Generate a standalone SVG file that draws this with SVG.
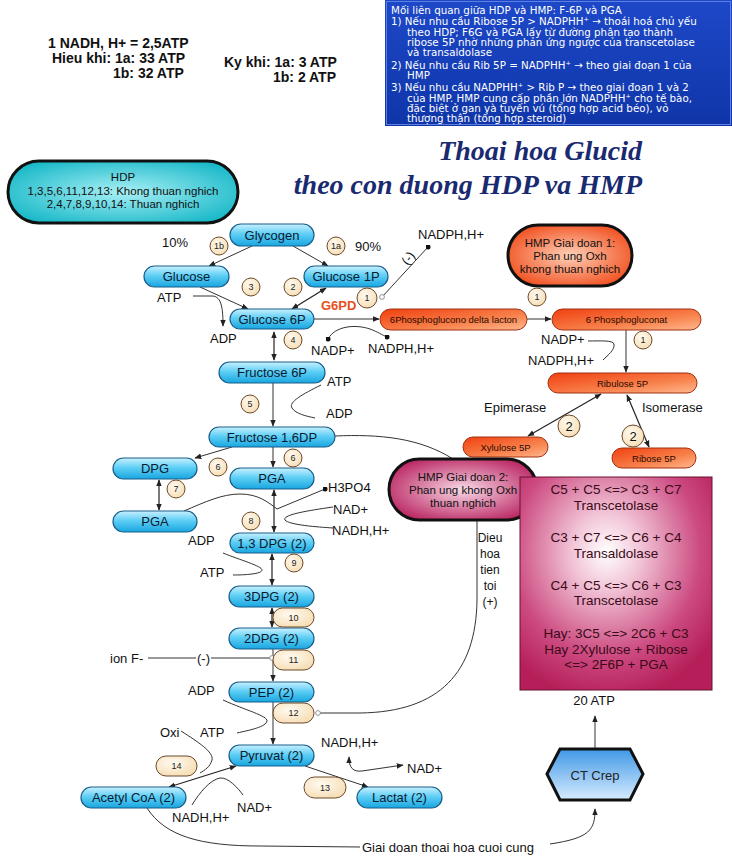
<svg xmlns="http://www.w3.org/2000/svg" width="732" height="858" viewBox="0 0 732 858">
<defs>
<linearGradient id="gBlue" x1="0" y1="0" x2="0" y2="1">
<stop offset="0" stop-color="#c8f0ff"/><stop offset="0.45" stop-color="#5fcff5"/><stop offset="1" stop-color="#18a6e0"/>
</linearGradient>
<linearGradient id="gOr" x1="0" y1="0" x2="1" y2="1">
<stop offset="0" stop-color="#f04010"/><stop offset="0.6" stop-color="#f8804a"/><stop offset="1" stop-color="#ffb890"/>
</linearGradient>
<radialGradient id="gOrPill" cx="0.5" cy="0.5" r="0.6">
<stop offset="0" stop-color="#ffd0b8"/><stop offset="1" stop-color="#f04a18"/>
</radialGradient>
<radialGradient id="gCyan" cx="0.5" cy="0.5" r="0.6">
<stop offset="0" stop-color="#a8f0f5"/><stop offset="1" stop-color="#18b8c8"/>
</radialGradient>
<radialGradient id="gPink" cx="0.5" cy="0.5" r="0.6">
<stop offset="0" stop-color="#f8d8e6"/><stop offset="1" stop-color="#b8205e"/>
</radialGradient>
<radialGradient id="gSq" cx="0.45" cy="0.35" r="0.7">
<stop offset="0" stop-color="#ffffff"/><stop offset="0.25" stop-color="#f2c6d8"/><stop offset="0.7" stop-color="#cc4a80"/><stop offset="1" stop-color="#b51e58"/>
</radialGradient>
<linearGradient id="gHex" x1="0" y1="0" x2="0" y2="1">
<stop offset="0" stop-color="#3f98e6"/><stop offset="1" stop-color="#d8ecff"/>
</linearGradient>
<linearGradient id="gNavy" x1="0" y1="0" x2="0" y2="1">
<stop offset="0" stop-color="#1d48c8"/><stop offset="1" stop-color="#0f35a8"/>
</linearGradient>
<radialGradient id="gCream" cx="0.4" cy="0.35" r="0.7">
<stop offset="0" stop-color="#fffaf0"/><stop offset="1" stop-color="#f6ddb4"/>
</radialGradient>
<marker id="ah" viewBox="0 0 10 10" refX="9" refY="5" markerWidth="7" markerHeight="7" markerUnits="userSpaceOnUse" orient="auto-start-reverse">
<path d="M0,1 L10,5 L0,9 z" fill="#222"/>
</marker>
<marker id="dot" viewBox="0 0 10 10" refX="5" refY="5" markerWidth="5" markerHeight="5" markerUnits="userSpaceOnUse">
<circle cx="5" cy="5" r="5" fill="#111"/>
</marker>
<marker id="oc" viewBox="0 0 10 10" refX="5" refY="5" markerWidth="6" markerHeight="6" markerUnits="userSpaceOnUse">
<circle cx="5" cy="5" r="4" fill="#fff" stroke="#888" stroke-width="1.5"/>
</marker>
</defs>
<style>
text{font-family:"Liberation Sans",Arial,sans-serif;fill:#111}
.lbl{font-size:13px}
.nb{fill:url(#gBlue);stroke:#1a5f8a;stroke-width:1.2}
.nt{font-size:13px;text-anchor:middle;fill:#0a1a30}
.no{fill:url(#gOr);stroke:#a03010;stroke-width:1}
.ot{font-size:9.5px;text-anchor:middle;fill:#2a0a00}
.ci{fill:url(#gCream);stroke:#6b4a2a;stroke-width:1}
.ct{font-size:9px;text-anchor:middle;fill:#222}
.ct2{font-size:13px;text-anchor:middle;fill:#222}
.ln{fill:none;stroke:#333;stroke-width:1}
.ar{fill:none;stroke:#333;stroke-width:1;marker-end:url(#ah)}
.da{fill:none;stroke:#222;stroke-width:1.2;marker-start:url(#ah);marker-end:url(#ah)}
.bx{font-family:"DejaVu Sans","Liberation Sans",sans-serif;font-size:10.3px;fill:#fff}
.hd{font-size:14px;font-weight:bold}
.ttl{font-family:"Liberation Serif","Times New Roman",serif;font-size:28px;font-weight:bold;font-style:italic;fill:#1a2a70}
.sq{font-size:13.5px;text-anchor:middle;fill:#3a0a18}
</style>

<rect width="732" height="858" fill="#fff"/>

<g id="infobox">
<rect x="385" y="0" width="347" height="126" fill="url(#gNavy)"/>
<rect x="386.5" y="1.5" width="344" height="123" fill="none" stroke="#5f80e0" stroke-width="1"/>
<text class="bx" x="391" y="14">Mối liên quan giữa HDP và HMP:  F-6P và PGA</text>
<text class="bx" x="391" y="25">1) Nếu nhu cầu Ribose 5P &gt; NADPHH⁺ → thoái hoá chủ yếu</text>
<text class="bx" x="407" y="36">theo HDP; F6G và PGA lấy từ đường phân tạo thành</text>
<text class="bx" x="407" y="46">ribose 5P nhờ những phản ứng ngược của transcetolase</text>
<text class="bx" x="407" y="56">và transaldolase</text>
<text class="bx" x="391" y="69">2) Nếu nhu cầu Rib 5P = NADPHH⁺ → theo giai đoạn 1 của</text>
<text class="bx" x="407" y="79">HMP</text>
<text class="bx" x="391" y="91">3) Nếu nhu cầu NADPHH⁺ &gt; Rib P → theo giai đoạn 1 và 2</text>
<text class="bx" x="407" y="102">của HMP. HMP cung cấp phần lớn NADPHH⁺ cho tế bào,</text>
<text class="bx" x="407" y="112">đặc biệt ở gan và tuyến vú (tổng hợp acid béo), vỏ</text>
<text class="bx" x="407" y="122">thượng thận (tổng hợp steroid)</text>
</g>

<g id="atp-notes">
<text class="hd" x="48" y="48">1 NADH, H+ = 2,5ATP</text>
<text class="hd" x="52" y="63">Hieu khi: 1a: 33 ATP</text>
<text class="hd" x="113" y="78">1b: 32 ATP</text>
<text class="hd" x="224" y="67">Ky khi: 1a: 3 ATP</text>
<text class="hd" x="273" y="82">1b: 2 ATP</text>
</g>

<g id="title">
<text class="ttl" x="642" y="160" text-anchor="end">Thoai hoa Glucid</text>
<text class="ttl" x="642" y="194" text-anchor="end">theo con duong HDP va HMP</text>
</g>

<g id="hdp-legend">
<rect x="8" y="161" width="230" height="62" rx="31" fill="url(#gCyan)" stroke="#111" stroke-width="3"/>
<text x="123" y="181" font-size="11.5" text-anchor="middle">HDP</text>
<text x="123" y="195" font-size="11.5" text-anchor="middle">1,3,5,6,11,12,13: Khong thuan nghich</text>
<text x="123" y="208" font-size="11.5" text-anchor="middle">2,4,7,8,9,10,14: Thuan nghich</text>
</g>

<g id="connectors">
<path class="ar" d="M252,246 L209,266"/>
<path class="ar" d="M293,246 L328,266"/>
<path class="ar" d="M200,287 L248,309"/>
<path class="da" d="M326,288 L292,309"/>
<path class="ar" d="M193,296 L212,296 C222,296 223,310 223,326"/>
<path class="ar" d="M314,319 L379,319"/>
<path class="ar" d="M527,319 L551,319"/>
<path class="ln" d="M382,297 L428,247" marker-end="url(#dot)" marker-start="url(#oc)"/>
<path class="ln" d="M328,339 C335,326 355,324 370,329 C378,332 382,335 387,337" marker-start="url(#dot)" marker-end="url(#dot)"/>
<path class="da" d="M274,332 L274,360"/>
<path class="ln" d="M321,385 C303,394 288,402 292,408 C296,414 306,416 315,418"/>
<path class="ar" d="M273,383 L273,426"/>
<path class="ar" d="M232,447 L195,458"/>
<path class="ar" d="M273,447 L273,467"/>
<path class="ln" d="M335,436 C380,434 420,438 453,459"/>
<path class="da" d="M159,480 L159,510"/>
<path class="da" d="M274,490 L274,532"/>
<path class="ln" d="M184,511 C205,502 222,494 240,494 C258,494 268,502 277,509"/>
<path class="ln" d="M277,509 L325,489" marker-end="url(#dot)"/>
<path class="ln" d="M333,507 C305,511 282,515 285,520 C289,525 318,527 333,528"/>
<path class="ln" d="M223,553 C240,560 262,566 262,570 C262,574 245,575 233,575"/>
<path class="da" d="M272,554 L272,585"/>
<path class="da" d="M272,608 L272,627"/>
<path class="ar" d="M273,649 L273,681"/>
<path class="ln" d="M148,658 L196,658"/>
<path class="ln" d="M211,658 L272,658" marker-end="url(#oc)"/>
<path class="ar" d="M273,702 L273,744"/>
<path class="ln" d="M223,700 C245,710 268,716 267,721 C266,727 250,730 237,733"/>
<path class="ln" d="M181,731 C198,742 214,752 212,760 C210,767 205,770 200,773"/>
<path class="ln" d="M477,520 L477,600 C476,672 440,712 360,713 L318,713" marker-end="url(#oc)"/>
<path class="da" d="M236,766 L169,787"/>
<path class="ln" d="M192,805 C200,792 210,780 220,778 C228,777 238,788 243,795"/>
<path class="ar" d="M305,766 L368,787"/>
<path class="ln" d="M349,757 C349,768 353,772 362,771 L403,765" marker-start="url(#ah)" marker-end="url(#ah)"/>
<path class="ln" d="M147,808 C165,836 200,846 260,846 L360,847"/>
<path class="ar" d="M550,844 C590,838 595,830 595,809"/>
<path class="ar" d="M595,749 L595,716"/>
<path class="ar" d="M626,330 L626,372"/>
<path class="ln" d="M588,341 C600,341 613,340 614,344 C615,350 608,355 603,360"/>
<path class="da" d="M601,394 L528,436"/>
<path class="da" d="M627,395 L649,447"/>
</g>

<g id="glycogen"><rect class="nb" x="230" y="224" width="84" height="22" rx="11"/><text class="nt" x="272" y="240">Glycogen</text></g>
<g id="glucose"><rect class="nb" x="144" y="266" width="85" height="21" rx="10.5"/><text class="nt" x="186.5" y="281">Glucose</text></g>
<g id="glucose1p"><rect class="nb" x="304" y="266" width="84" height="21" rx="10.5"/><text class="nt" x="346" y="281">Glucose 1P</text></g>
<g id="glucose6p"><rect class="nb" x="230" y="309" width="84" height="20" rx="10"/><text class="nt" x="272" y="324">Glucose 6P</text></g>
<g id="fructose6p"><rect class="nb" x="219" y="362" width="106" height="21" rx="10.5"/><text class="nt" x="272" y="377">Fructose 6P</text></g>
<g id="fructose16dp"><rect class="nb" x="209" y="427" width="126" height="20" rx="10"/><text class="nt" x="272" y="442">Fructose 1,6DP</text></g>
<g id="dpg"><rect class="nb" x="113" y="458" width="84" height="21" rx="10.5"/><text class="nt" x="155" y="473">DPG</text></g>
<g id="pga"><rect class="nb" x="230" y="468" width="84" height="21" rx="10.5"/><text class="nt" x="272" y="483">PGA</text></g>
<g id="pga-left"><rect class="nb" x="113" y="511" width="84" height="21" rx="10.5"/><text class="nt" x="155" y="526">PGA</text></g>
<g id="dpg13"><rect class="nb" x="230" y="533" width="84" height="20" rx="10"/><text class="nt" x="272" y="548">1,3 DPG (2)</text></g>
<g id="dpg3"><rect class="nb" x="229" y="586" width="85" height="21" rx="10.5"/><text class="nt" x="271.5" y="601">3DPG (2)</text></g>
<g id="dpg2"><rect class="nb" x="229" y="628" width="85" height="21" rx="10.5"/><text class="nt" x="271.5" y="643">2DPG (2)</text></g>
<g id="pep"><rect class="nb" x="229" y="682" width="85" height="20" rx="10"/><text class="nt" x="271.5" y="697">PEP (2)</text></g>
<g id="pyruvat"><rect class="nb" x="229" y="745" width="85" height="21" rx="10.5"/><text class="nt" x="271.5" y="760">Pyruvat  (2)</text></g>
<g id="acetylcoa"><rect class="nb" x="81" y="787" width="105" height="21" rx="10.5"/><text class="nt" x="133.5" y="802">Acetyl CoA (2)</text></g>
<g id="lactat"><rect class="nb" x="357" y="787" width="85" height="21" rx="10.5"/><text class="nt" x="399.5" y="802">Lactat (2)</text></g>

<g id="hmp1">
<rect x="508" y="225" width="124" height="61" rx="30.5" fill="url(#gOrPill)" stroke="#111" stroke-width="3"/>
<text x="570" y="247" font-size="11.5" text-anchor="middle">HMP Giai doan 1:</text>
<text x="570" y="260" font-size="11.5" text-anchor="middle">Phan ung Oxh</text>
<text x="570" y="273" font-size="11.5" text-anchor="middle">khong thuan nghich</text>
</g>
<g id="pgl"><rect class="no" x="380" y="309" width="147" height="21" rx="10.5"/><text class="ot" x="453.5" y="323">6Phosphoglucono delta lacton</text></g>
<g id="pgn"><rect class="no" x="552" y="309" width="149" height="21" rx="10.5"/><text class="ot" x="626.5" y="323">6 Phosphogluconat</text></g>
<g id="ribulose"><rect class="no" x="548" y="373" width="149" height="20" rx="10"/><text class="ot" x="622.5" y="387">Ribulose 5P</text></g>
<g id="xylulose"><rect class="no" x="463" y="437" width="85" height="20" rx="10"/><text class="ot" x="505.5" y="451">Xylulose 5P</text></g>
<g id="ribose"><rect class="no" x="612" y="448" width="84" height="20" rx="10"/><text class="ot" x="654" y="462">Ribose 5P</text></g>

<g id="hmp2">
<rect x="389" y="459" width="148" height="61" rx="30.5" fill="url(#gPink)" stroke="#111" stroke-width="3"/>
<text x="463" y="481" font-size="11.5" text-anchor="middle">HMP Giai doan 2:</text>
<text x="463" y="494" font-size="11.5" text-anchor="middle">Phan ung khong Oxh</text>
<text x="463" y="507" font-size="11.5" text-anchor="middle">thuan nghich</text>
</g>

<g id="reactions">
<rect x="520" y="477" width="192" height="213" fill="url(#gSq)" stroke="#6a1030" stroke-width="1"/>
<text class="sq" x="616" y="494">C5 + C5 &lt;=&gt; C3 + C7</text>
<text class="sq" x="616" y="510">Transcetolase</text>
<text class="sq" x="616" y="542">C3 + C7 &lt;=&gt; C6 + C4</text>
<text class="sq" x="616" y="558">Transaldolase</text>
<text class="sq" x="616" y="590">C4 + C5 &lt;=&gt; C6 + C3</text>
<text class="sq" x="616" y="605">Transcetolase</text>
<text class="sq" x="616" y="638">Hay: 3C5 &lt;=&gt; 2C6 + C3</text>
<text class="sq" x="616" y="654">Hay 2Xylulose + Ribose</text>
<text class="sq" x="616" y="669">&lt;=&gt; 2F6P + PGA</text>
</g>

<g id="ctcrep">
<polygon points="547,774 560,749 630,749 643,774 630,800 560,800" fill="url(#gHex)" stroke="#111" stroke-width="3"/>
<text class="ct2" x="595" y="780">CT Crep</text>
</g>

<g id="steps">
<circle class="ci" cx="219" cy="246" r="9"/><text class="ct" x="219" y="249">1b</text>
<circle class="ci" cx="336" cy="246" r="9"/><text class="ct" x="336" y="249">1a</text>
<circle class="ci" cx="251" cy="287" r="9"/><text class="ct" x="251" y="290">3</text>
<circle class="ci" cx="293" cy="287" r="9"/><text class="ct" x="293" y="290">2</text>
<circle class="ci" cx="367" cy="298" r="10"/><text class="ct" x="367" y="301">1</text>
<circle class="ci" cx="293" cy="340" r="9"/><text class="ct" x="293" y="343">4</text>
<circle class="ci" cx="537" cy="297" r="9"/><text class="ct" x="537" y="300">1</text>
<circle class="ci" cx="643" cy="340" r="9"/><text class="ct" x="643" y="343">1</text>
<circle class="ci" cx="250" cy="404" r="9"/><text class="ct" x="250" y="407">5</text>
<circle class="ci" cx="293" cy="458" r="9"/><text class="ct" x="293" y="461">6</text>
<circle class="ci" cx="218" cy="467" r="9"/><text class="ct" x="218" y="470">6</text>
<circle class="ci" cx="176" cy="489" r="9"/><text class="ct" x="176" y="492">7</text>
<circle class="ci" cx="251" cy="521" r="9"/><text class="ct" x="251" y="524">8</text>
<circle class="ci" cx="294" cy="563" r="9"/><text class="ct" x="294" y="566">9</text>
<rect class="ci" x="273" y="608" width="41" height="19" rx="9.5"/><text class="ct" x="293.5" y="620.5">10</text>
<rect class="ci" x="273" y="650" width="41" height="20" rx="10"/><text class="ct" x="293.5" y="663">11</text>
<rect class="ci" x="273" y="703" width="41" height="20" rx="10"/><text class="ct" x="293.5" y="716">12</text>
<rect class="ci" x="304" y="777" width="42" height="21" rx="10.5"/><text class="ct" x="325" y="790.5">13</text>
<rect class="ci" x="156" y="756" width="41" height="20" rx="10"/><text class="ct" x="176.5" y="769">14</text>
<circle class="ci" cx="569" cy="426" r="11"/><text x="569" y="431" font-size="13" text-anchor="middle">2</text>
<circle class="ci" cx="633" cy="436" r="11"/><text x="633" y="441" font-size="13" text-anchor="middle">2</text>
</g>

<g id="labels">
<text class="lbl" x="162" y="247">10%</text>
<text class="lbl" x="355" y="251">90%</text>
<text class="lbl" x="157" y="302">ATP</text>
<text class="lbl" x="210" y="343">ADP</text>
<text x="321" y="310" font-size="13" font-weight="bold" style="fill:#e8501e">G6PD</text>
<text class="lbl" x="418" y="239">NADPH,H+</text>
<text class="lbl" transform="translate(408,266) rotate(-55)">(-)</text>
<text class="lbl" x="311" y="355">NADP+</text>
<text class="lbl" x="368" y="353">NADPH,H+</text>
<text class="lbl" x="327" y="386">ATP</text>
<text class="lbl" x="326" y="418">ADP</text>
<text class="lbl" x="328" y="492">H3PO4</text>
<text class="lbl" x="333" y="514">NAD+</text>
<text class="lbl" x="332" y="535">NADH,H+</text>
<text class="lbl" x="188" y="545">ADP</text>
<text class="lbl" x="200" y="577">ATP</text>
<text class="lbl" x="110" y="663">ion F-</text>
<text class="lbl" x="197" y="663">(-)</text>
<text class="lbl" x="188" y="695">ADP</text>
<text class="lbl" x="160" y="737">Oxi</text>
<text class="lbl" x="200" y="737">ATP</text>
<text class="lbl" x="321" y="747">NADH,H+</text>
<text class="lbl" x="407" y="773">NAD+</text>
<text class="lbl" x="237" y="812">NAD+</text>
<text class="lbl" x="172" y="822">NADH,H+</text>
<text class="lbl" x="362" y="852">Giai doan thoai hoa cuoi cung</text>
<text class="lbl" x="594" y="705" text-anchor="middle">20 ATP</text>
<text class="lbl" x="541" y="344">NADP+</text>
<text class="lbl" x="528" y="365">NADPH,H+</text>
<text class="lbl" x="484" y="412">Epimerase</text>
<text class="lbl" x="642" y="412">Isomerase</text>
<text x="490" y="542" font-size="12" text-anchor="middle">Dieu</text>
<text x="490" y="558" font-size="12" text-anchor="middle">hoa</text>
<text x="490" y="574" font-size="12" text-anchor="middle">tien</text>
<text x="490" y="590" font-size="12" text-anchor="middle">toi</text>
<text x="490" y="606" font-size="12" text-anchor="middle">(+)</text>
</g>
</svg>
